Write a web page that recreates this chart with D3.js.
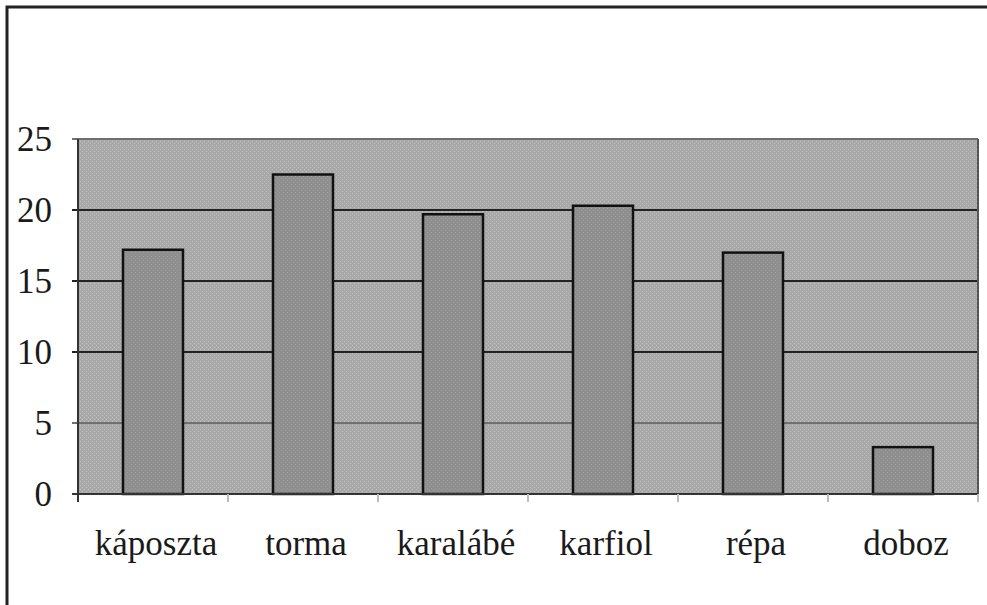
<!DOCTYPE html>
<html>
<head>
<meta charset="utf-8">
<script src="https://d3js.org/d3.v7.min.js"></script>
<style>
    body { margin: 0; background: #fff; }
    svg text { font-family: "Times New Roman", "Liberation Serif", Times, serif; fill: #1a1a1a; }
</style>
</head>
<body>
<div id="chart"></div>
<script>
    // data
    var categories = ['káposzta', 'torma', 'karalábé', 'karfiol', 'répa', 'doboz'];
    var values = [17.2, 22.5, 19.7, 20.3, 17.0, 3.3];
    var yTicks = [0, 5, 10, 15, 20, 25];

    var W = 987, H = 605;
    var margin = {top: 139, right: 9, bottom: 111, left: 78};
    var width = W - margin.left - margin.right;
    var height = H - margin.top - margin.bottom;

    var svg = d3.select('#chart').append('svg')
        .attr('width', W)
        .attr('height', H);

    // outer frame (only top and left edges show)
    svg.append('path')
        .attr('d', 'M7,' + H + 'V7H' + W)
        .attr('fill', 'none')
        .attr('stroke', '#222')
        .attr('stroke-width', 3);

    // dither pattern for the plot area
    var defs = svg.append('defs');
    var pat = defs.append('pattern')
        .attr('id', 'dither')
        .attr('width', 4).attr('height', 4)
        .attr('patternUnits', 'userSpaceOnUse');
    pat.append('rect').attr('width', 4).attr('height', 4).attr('fill', '#a9a9a9');
    pat.append('rect').attr('x', 0).attr('y', 0).attr('width', 1).attr('height', 1).attr('fill', '#bdbdbd');
    pat.append('rect').attr('x', 2).attr('y', 2).attr('width', 1).attr('height', 1).attr('fill', '#bdbdbd');

    var barPat = defs.append('pattern')
        .attr('id', 'barDither')
        .attr('width', 4).attr('height', 4)
        .attr('patternUnits', 'userSpaceOnUse');
    barPat.append('rect').attr('width', 4).attr('height', 4).attr('fill', '#8f8f8f');
    barPat.append('rect').attr('x', 1).attr('y', 1).attr('width', 1).attr('height', 1).attr('fill', '#9c9c9c');
    barPat.append('rect').attr('x', 3).attr('y', 3).attr('width', 1).attr('height', 1).attr('fill', '#9c9c9c');

    var g = svg.append('g')
        .attr('transform', 'translate(' + margin.left + ',' + margin.top + ')');

    var x = d3.scaleBand().domain(categories).range([0, width]).paddingInner(0.6).paddingOuter(0.3);
    var y = d3.scaleLinear().domain([0, 25]).range([height, 0]);

    g.append('rect')
        .attr('width', width)
        .attr('height', height)
        .attr('fill', 'url(#dither)');

    // gridlines
    g.selectAll('.grid')
        .data(yTicks.filter(function(d) { return d > 0; }))
        .enter().append('line')
        .attr('x1', -6).attr('x2', width)
        .attr('y1', function(d) { return y(d); })
        .attr('y2', function(d) { return y(d); })
        .attr('stroke', function(d) { return (d === 5 || d === 25) ? '#707070' : '#222'; })
        .attr('stroke-width', 2);

    // bars
    g.selectAll('.bar')
        .data(values)
        .enter().append('rect')
        .attr('x', function(d, i) { return x(categories[i]); })
        .attr('y', function(d) { return y(d); })
        .attr('width', x.bandwidth())
        .attr('height', function(d) { return height - y(d); })
        .attr('fill', 'url(#barDither)')
        .attr('stroke', '#111')
        .attr('stroke-width', 2.5);

    // plot borders: left axis, right edge, bottom axis
    g.append('line').attr('x1', 0).attr('x2', 0).attr('y1', y(25)).attr('y2', height + 8)
        .attr('stroke', '#333').attr('stroke-width', 2);
    g.append('line').attr('x1', width).attr('x2', width).attr('y1', 0).attr('y2', height)
        .attr('stroke', '#555').attr('stroke-width', 2);
    g.append('line').attr('x1', -6).attr('x2', width).attr('y1', height).attr('y2', height)
        .attr('stroke', '#333').attr('stroke-width', 2);

    // category separators below axis
    var step = x.step();
    g.selectAll('.xtick')
        .data(d3.range(1, categories.length + 1))
        .enter().append('line')
        .attr('x1', function(d) { return x(categories[0]) - x.paddingOuter() * step + d * step; })
        .attr('x2', function(d) { return x(categories[0]) - x.paddingOuter() * step + d * step; })
        .attr('y1', height).attr('y2', height + 8)
        .attr('stroke', '#bbb').attr('stroke-width', 2);

    // y tick labels
    g.selectAll('.ylab')
        .data(yTicks)
        .enter().append('text')
        .attr('x', -26)
        .attr('y', function(d) { return y(d); })
        .attr('dy', '0.34em')
        .attr('text-anchor', 'end')
        .style('font-size', '35px')
        .text(function(d) { return d; });

    // category labels
    g.selectAll('.xlab')
        .data(categories)
        .enter().append('text')
        .attr('x', function(d) { return x(d) + x.bandwidth() / 2 + 3; })
        .attr('y', height + 61)
        .attr('text-anchor', 'middle')
        .style('font-size', '35px')
        .text(function(d) { return d; });
</script>
</body>
</html>
